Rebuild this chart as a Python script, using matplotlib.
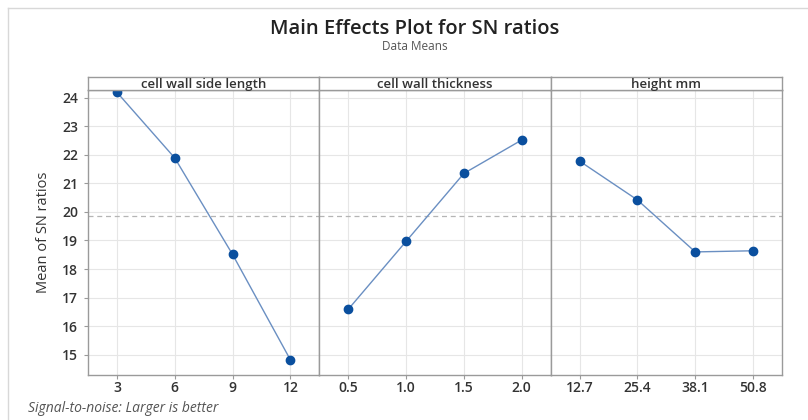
import matplotlib.pyplot as plt
from matplotlib.lines import Line2D

plt.rcParams['font.family'] = ['Open Sans', 'DejaVu Sans']

# factor levels and mean SN ratios per level
factors = ["cell wall side length", "cell wall thickness", "height mm"]
levels_side = ["3", "6", "9", "12"]
levels_thick = ["0.5", "1.0", "1.5", "2.0"]
levels_height = ["12.7", "25.4", "38.1", "50.8"]
sn_side = [24.19, 21.89, 18.51, 14.82]
sn_thick = [16.59, 18.97, 21.35, 22.52]
sn_height = [21.78, 20.42, 18.60, 18.64]
y_ticks = [15, 16, 17, 18, 19, 20, 21, 22, 23, 24]

levels = [levels_side, levels_thick, levels_height]
means = [sn_side, sn_thick, sn_height]
grand_mean = sum(sn_side) / len(sn_side)

W, H = 808, 420
fig = plt.figure(figsize=(W / 100, H / 100), dpi=100)

# outer frame
fig.add_artist(Line2D([8 / W, 1], [1 - 8 / H, 1 - 8 / H], color="#d8d8d8", lw=1))
fig.add_artist(Line2D([8 / W, 8 / W], [0, 1 - 8 / H], color="#d8d8d8", lw=1))

left, right = 88, 782
top, bottom = 90, 375
strip_top = 77
pw = (right - left) / 3
edge = "#9a9a9a"

for i, (name, lv, mv) in enumerate(zip(factors, levels, means)):
    x0 = left + i * pw
    ax = fig.add_axes([x0 / W, 1 - bottom / H, pw / W, (bottom - top) / H])
    xs = list(range(1, len(lv) + 1))
    ax.axhline(grand_mean, color="#b5b5b5", lw=0.9, ls=(0, (4, 3)), zorder=1)
    ax.plot(xs, mv, color="#6a8fc2", lw=1.0, zorder=2)
    ax.plot(xs, mv, "o", color="#0a4f9e", ms=6, zorder=3)
    ax.set_xlim(0.5, len(lv) + 0.5)
    ax.set_ylim(14.29, 24.27)
    ax.set_xticks(xs)
    ax.set_xticklabels(lv)
    ax.set_yticks(y_ticks)
    ax.grid(True, color="#e6e6e6", lw=0.8)
    ax.set_axisbelow(True)
    for s in ax.spines.values():
        s.set_color(edge)
        s.set_linewidth(1.0)
    ax.tick_params(axis="both", length=3, color=edge, labelsize=10,
                   labelcolor="#333333", pad=4)
    ax.tick_params(axis="x", pad=1.5)
    for lab in ax.get_xticklabels() + ax.get_yticklabels():
        lab.set_fontweight("semibold")
    if i == 0:
        ax.set_ylabel("Mean of SN ratios", fontsize=10.5, color="#333333", labelpad=8)
    else:
        ax.tick_params(axis="y", left=False, labelleft=False)

    # factor name strip above each panel
    sax = fig.add_axes([x0 / W, 1 - top / H, pw / W, (top - strip_top) / H])
    sax.set_xticks([])
    sax.set_yticks([])
    for s in sax.spines.values():
        s.set_color(edge)
        s.set_linewidth(1.0)
    sax.text(0.5, 0.45, name, ha="center", va="center", fontsize=9.5,
             fontweight="semibold", color="#333333", transform=sax.transAxes)

fig.text(415 / W, 1 - 29 / H, "Main Effects Plot for SN ratios", ha="center",
         va="center", fontsize=14.5, fontweight="semibold", color="#222222")
fig.text(415 / W, 1 - 46 / H, "Data Means", ha="center", va="center",
         fontsize=8.5, color="#555555")
fig.text(28 / W, 1 - 408 / H, "Signal-to-noise: Larger is better", ha="left",
         va="center", fontsize=10, style="italic", color="#555555")

fig.savefig("out.png", dpi=100)
